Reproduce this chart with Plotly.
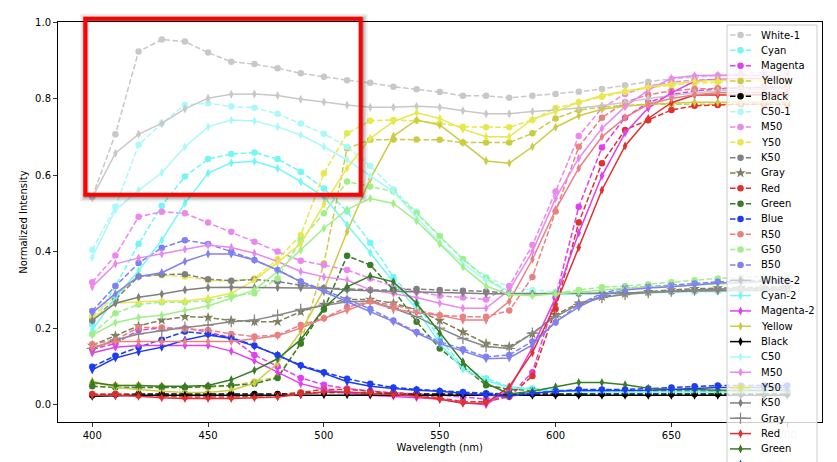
import plotly.graph_objects as go

W, H = 837, 462

wavelengths = list(range(400, 701, 10))

# first measurement set (dashed, circles)
white_1 = [0.543, 0.707, 0.923, 0.954, 0.949, 0.920, 0.896, 0.890, 0.879, 0.866, 0.857, 0.848, 0.841, 0.831, 0.824, 0.817,
           0.807, 0.807, 0.802, 0.807, 0.812, 0.818, 0.825, 0.835, 0.844, 0.851, 0.857, 0.861, 0.865, 0.868, 0.870]
cyan_1 = [0.210, 0.310, 0.420, 0.520, 0.596, 0.642, 0.655, 0.659, 0.642, 0.609, 0.565, 0.505, 0.423, 0.334, 0.265, 0.172,
          0.100, 0.069, 0.047, 0.043, 0.038, 0.037, 0.036, 0.036, 0.035, 0.035, 0.035, 0.035, 0.035, 0.035, 0.035]
magenta_1 = [0.145, 0.160, 0.195, 0.200, 0.200, 0.190, 0.175, 0.130, 0.100, 0.070, 0.052, 0.042, 0.036, 0.031, 0.028, 0.025,
             0.020, 0.015, 0.022, 0.085, 0.280, 0.517, 0.672, 0.750, 0.790, 0.810, 0.820, 0.825, 0.828, 0.830, 0.830]
yellow_1 = [0.055, 0.050, 0.050, 0.048, 0.045, 0.045, 0.050, 0.060, 0.073, 0.160, 0.369, 0.670, 0.692, 0.693, 0.693, 0.692,
            0.685, 0.685, 0.685, 0.709, 0.748, 0.770, 0.778, 0.782, 0.785, 0.785, 0.785, 0.785, 0.785, 0.785, 0.785]
black_1 = [0.025, 0.027, 0.028, 0.028, 0.028, 0.028, 0.028, 0.028, 0.028, 0.030, 0.032, 0.032, 0.030, 0.030, 0.028, 0.028,
           0.028, 0.028, 0.028, 0.028, 0.028, 0.028, 0.028, 0.028, 0.028, 0.028, 0.028, 0.028, 0.028, 0.028, 0.028]
c50_1 = [0.405, 0.517, 0.679, 0.735, 0.783, 0.788, 0.779, 0.776, 0.760, 0.735, 0.708, 0.674, 0.624, 0.563, 0.504, 0.441,
         0.381, 0.334, 0.308, 0.300, 0.295, 0.292, 0.292, 0.292, 0.293, 0.294, 0.295, 0.296, 0.297, 0.298, 0.298]
m50_1 = [0.320, 0.390, 0.491, 0.504, 0.500, 0.476, 0.452, 0.426, 0.400, 0.376, 0.365, 0.352, 0.330, 0.310, 0.295, 0.285,
         0.280, 0.275, 0.310, 0.417, 0.557, 0.702, 0.775, 0.812, 0.832, 0.843, 0.848, 0.850, 0.850, 0.850, 0.850]
y50_1 = [0.230, 0.285, 0.336, 0.338, 0.335, 0.325, 0.322, 0.330, 0.380, 0.443, 0.605, 0.709, 0.742, 0.744, 0.742, 0.735,
         0.726, 0.725, 0.725, 0.744, 0.775, 0.790, 0.805, 0.818, 0.828, 0.835, 0.840, 0.843, 0.845, 0.845, 0.845]
k50_1 = [0.220, 0.275, 0.335, 0.340, 0.341, 0.328, 0.324, 0.327, 0.322, 0.312, 0.305, 0.302, 0.300, 0.300, 0.302, 0.300,
         0.298, 0.296, 0.292, 0.290, 0.290, 0.290, 0.290, 0.292, 0.294, 0.296, 0.298, 0.300, 0.300, 0.300, 0.300]
gray_1 = [0.155, 0.180, 0.206, 0.221, 0.230, 0.228, 0.220, 0.217, 0.217, 0.243, 0.262, 0.275, 0.275, 0.265, 0.248, 0.220,
          0.190, 0.160, 0.152, 0.185, 0.235, 0.265, 0.282, 0.290, 0.295, 0.300, 0.303, 0.305, 0.306, 0.307, 0.308]
red_1 = [0.028, 0.028, 0.025, 0.022, 0.020, 0.020, 0.020, 0.022, 0.025, 0.032, 0.040, 0.040, 0.035, 0.030, 0.027, 0.018,
         0.008, 0.008, 0.021, 0.075, 0.250, 0.476, 0.631, 0.718, 0.743, 0.770, 0.781, 0.783, 0.785, 0.785, 0.785]
green_1 = [0.048, 0.045, 0.045, 0.045, 0.045, 0.048, 0.050, 0.055, 0.070, 0.160, 0.249, 0.389, 0.365, 0.300, 0.217, 0.147,
           0.100, 0.051, 0.040, 0.038, 0.036, 0.036, 0.036, 0.035, 0.035, 0.035, 0.035, 0.035, 0.035, 0.035, 0.035]
blue_1 = [0.099, 0.128, 0.150, 0.170, 0.191, 0.185, 0.175, 0.155, 0.130, 0.103, 0.085, 0.068, 0.055, 0.045, 0.040, 0.036,
          0.033, 0.030, 0.028, 0.030, 0.035, 0.040, 0.040, 0.040, 0.042, 0.045, 0.048, 0.050, 0.050, 0.050, 0.050]
r50_1 = [0.158, 0.169, 0.202, 0.202, 0.198, 0.195, 0.185, 0.178, 0.182, 0.208, 0.226, 0.255, 0.270, 0.260, 0.247, 0.234,
         0.230, 0.230, 0.246, 0.334, 0.505, 0.674, 0.750, 0.790, 0.810, 0.820, 0.825, 0.827, 0.828, 0.828, 0.828]
g50_1 = [0.185, 0.239, 0.262, 0.268, 0.268, 0.272, 0.285, 0.291, 0.330, 0.430, 0.500, 0.583, 0.570, 0.557, 0.500, 0.440,
         0.380, 0.330, 0.295, 0.290, 0.292, 0.300, 0.307, 0.310, 0.315, 0.320, 0.325, 0.330, 0.333, 0.335, 0.335]
b50_1 = [0.245, 0.310, 0.370, 0.410, 0.430, 0.420, 0.400, 0.378, 0.352, 0.322, 0.300, 0.275, 0.250, 0.220, 0.190, 0.165,
         0.145, 0.125, 0.130, 0.165, 0.215, 0.262, 0.291, 0.305, 0.308, 0.312, 0.317, 0.321, 0.323, 0.325, 0.325]

# second measurement set (solid, diamonds)
white_2 = [0.541, 0.657, 0.707, 0.735, 0.773, 0.801, 0.811, 0.812, 0.808, 0.798, 0.791, 0.783, 0.777, 0.777, 0.780, 0.777,
           0.768, 0.760, 0.760, 0.766, 0.770, 0.775, 0.782, 0.790, 0.800, 0.808, 0.815, 0.820, 0.822, 0.825, 0.826]
cyan_2 = [0.195, 0.280, 0.350, 0.430, 0.526, 0.605, 0.632, 0.636, 0.618, 0.583, 0.543, 0.470, 0.397, 0.320, 0.250, 0.160,
          0.093, 0.063, 0.045, 0.040, 0.035, 0.034, 0.033, 0.033, 0.033, 0.033, 0.033, 0.033, 0.033, 0.033, 0.033]
magenta_2 = [0.135, 0.150, 0.155, 0.155, 0.155, 0.155, 0.140, 0.115, 0.085, 0.055, 0.040, 0.030, 0.025, 0.022, 0.018, 0.015,
             0.005, 0.000, 0.040, 0.150, 0.280, 0.449, 0.598, 0.710, 0.775, 0.815, 0.845, 0.850, 0.852, 0.853, 0.853]
yellow_2 = [0.062, 0.045, 0.040, 0.035, 0.032, 0.032, 0.038, 0.056, 0.108, 0.191, 0.300, 0.452, 0.590, 0.702, 0.744, 0.731,
            0.685, 0.637, 0.631, 0.674, 0.725, 0.755, 0.772, 0.780, 0.785, 0.788, 0.790, 0.790, 0.790, 0.790, 0.790]
black_2 = [0.022, 0.024, 0.025, 0.025, 0.025, 0.025, 0.025, 0.025, 0.025, 0.026, 0.026, 0.026, 0.026, 0.026, 0.025, 0.025,
           0.025, 0.025, 0.025, 0.025, 0.025, 0.025, 0.025, 0.025, 0.025, 0.025, 0.025, 0.025, 0.025, 0.025, 0.025]
c50_2 = [0.385, 0.509, 0.560, 0.606, 0.674, 0.726, 0.744, 0.741, 0.726, 0.705, 0.674, 0.640, 0.598, 0.557, 0.490, 0.423,
         0.369, 0.325, 0.295, 0.290, 0.288, 0.288, 0.289, 0.290, 0.292, 0.294, 0.295, 0.296, 0.297, 0.298, 0.298]
m50_2 = [0.308, 0.368, 0.383, 0.394, 0.406, 0.417, 0.411, 0.396, 0.374, 0.348, 0.334, 0.326, 0.300, 0.290, 0.280, 0.265,
         0.252, 0.252, 0.300, 0.400, 0.539, 0.644, 0.722, 0.779, 0.822, 0.853, 0.860, 0.861, 0.861, 0.861, 0.860]
y50_2 = [0.226, 0.265, 0.269, 0.271, 0.271, 0.278, 0.291, 0.325, 0.372, 0.420, 0.524, 0.618, 0.696, 0.740, 0.763, 0.748,
         0.720, 0.700, 0.700, 0.746, 0.766, 0.790, 0.808, 0.820, 0.830, 0.838, 0.845, 0.848, 0.850, 0.850, 0.850]
k50_2 = [0.220, 0.265, 0.281, 0.289, 0.300, 0.306, 0.307, 0.306, 0.306, 0.305, 0.305, 0.300, 0.298, 0.296, 0.295, 0.293,
         0.292, 0.290, 0.290, 0.290, 0.290, 0.290, 0.291, 0.292, 0.294, 0.296, 0.297, 0.298, 0.299, 0.300, 0.300]
gray_2 = [0.147, 0.169, 0.185, 0.193, 0.202, 0.208, 0.217, 0.221, 0.234, 0.249, 0.260, 0.269, 0.270, 0.252, 0.230, 0.200,
          0.173, 0.152, 0.147, 0.187, 0.230, 0.262, 0.280, 0.288, 0.293, 0.297, 0.300, 0.302, 0.303, 0.304, 0.305]
red_2 = [0.025, 0.025, 0.022, 0.018, 0.016, 0.016, 0.016, 0.018, 0.020, 0.027, 0.033, 0.033, 0.030, 0.026, 0.022, 0.014,
         0.004, 0.004, 0.047, 0.136, 0.261, 0.411, 0.561, 0.676, 0.748, 0.789, 0.809, 0.809, 0.810, 0.810, 0.810]
green_2 = [0.058, 0.050, 0.050, 0.048, 0.048, 0.050, 0.065, 0.090, 0.120, 0.170, 0.252, 0.308, 0.336, 0.321, 0.265, 0.187,
           0.112, 0.056, 0.028, 0.035, 0.047, 0.058, 0.058, 0.052, 0.043, 0.040, 0.040, 0.038, 0.038, 0.038, 0.038]
blue_2 = [0.091, 0.122, 0.138, 0.150, 0.169, 0.182, 0.173, 0.153, 0.130, 0.101, 0.082, 0.060, 0.048, 0.042, 0.038, 0.035,
          0.030, 0.025, 0.022, 0.030, 0.035, 0.037, 0.037, 0.037, 0.038, 0.040, 0.042, 0.045, 0.045, 0.045, 0.045]
r50_2 = [0.150, 0.165, 0.165, 0.165, 0.165, 0.165, 0.165, 0.172, 0.180, 0.200, 0.226, 0.247, 0.269, 0.250, 0.240, 0.234,
         0.221, 0.221, 0.270, 0.380, 0.510, 0.618, 0.700, 0.750, 0.785, 0.800, 0.810, 0.815, 0.816, 0.816, 0.816]
g50_2 = [0.182, 0.214, 0.228, 0.234, 0.246, 0.258, 0.278, 0.300, 0.348, 0.404, 0.461, 0.510, 0.539, 0.526, 0.480, 0.420,
         0.360, 0.310, 0.288, 0.285, 0.290, 0.295, 0.300, 0.304, 0.307, 0.310, 0.313, 0.316, 0.318, 0.320, 0.320]
b50_2 = [0.240, 0.290, 0.335, 0.345, 0.374, 0.394, 0.394, 0.378, 0.352, 0.321, 0.295, 0.269, 0.243, 0.217, 0.187, 0.160,
         0.140, 0.120, 0.122, 0.156, 0.217, 0.255, 0.285, 0.300, 0.305, 0.308, 0.313, 0.318, 0.320, 0.322, 0.322]

names_1 = ["White-1", "Cyan", "Magenta", "Yellow", "Black", "C50-1", "M50", "Y50", "K50", "Gray", "Red", "Green", "Blue",
           "R50", "G50", "B50"]
names_2 = ["White-2", "Cyan-2", "Magenta-2", "Yellow", "Black", "C50", "M50", "Y50", "K50", "Gray", "Red", "Green", "Blue",
           "R50", "G50", "B50"]
values_1 = [white_1, cyan_1, magenta_1, yellow_1, black_1, c50_1, m50_1, y50_1, k50_1, gray_1, red_1, green_1, blue_1,
            r50_1, g50_1, b50_1]
values_2 = [white_2, cyan_2, magenta_2, yellow_2, black_2, c50_2, m50_2, y50_2, k50_2, gray_2, red_2, green_2, blue_2,
            r50_2, g50_2, b50_2]
colors = ["#c8c8c8", "#72f7f7", "#e040f0", "#cccc44", "#000000", "#aaf9f9", "#ea88f0", "#e8e84e", "#808080", "#7f7f5a",
          "#e03030", "#3a7d28", "#1e3cf0", "#ea8080", "#a0f088", "#8080f0"]
gray_solid_color = "#888888"

x_ticks = [400, 450, 500, 550, 600, 650, 700]
y_ticks = [0.0, 0.2, 0.4, 0.6, 0.8, 1.0]

DASH = "5.5px,2.4px"


def style(set_no, i):
    color = colors[i]
    if set_no == 1:
        marker = dict(symbol="circle", size=6.5, color=color)
        if names_1[i] == "Gray":
            marker = dict(symbol="star", size=8, color=color)
        return dict(color=color, width=1.5, dash=DASH), marker
    marker = dict(symbol="diamond-tall", size=6.5, color=color)
    if names_2[i] == "Gray":
        color = gray_solid_color
        marker = dict(symbol="cross-thin", size=8, color=color, line=dict(color=color, width=1.3))
    return dict(color=color, width=1.5), marker


fig = go.Figure()

for set_no, (names, values) in enumerate([(names_1, values_1), (names_2, values_2)], start=1):
    for i, (name, vals) in enumerate(zip(names, values)):
        line, marker = style(set_no, i)
        fig.add_trace(go.Scatter(x=wavelengths, y=vals, mode="lines+markers", name=name, line=line, marker=marker,
                                 xaxis="x", yaxis="y", showlegend=False, hoverinfo="skip"))

# legend drawn on a pixel-space overlay (the original legend runs off the bottom of the figure)
lx0, lx1, ly0 = 727, 817, 25
fig.add_trace(go.Scatter(x=[lx0, lx1, lx1, lx0, lx0], y=[ly0, ly0, 520, 520, ly0], mode="lines", fill="toself",
                         fillcolor="rgba(255,255,255,0.8)", line=dict(color="#cccccc", width=1),
                         xaxis="x2", yaxis="y2", showlegend=False, hoverinfo="skip"))

entry_y0, entry_dy = 35, 15.33
annotations = []
legend_entries = [(1, i, n) for i, n in enumerate(names_1)] + [(2, i, n) for i, n in enumerate(names_2)]
for k, (set_no, i, name) in enumerate(legend_entries):
    yy = entry_y0 + k * entry_dy
    line, marker = style(set_no, i)
    fig.add_trace(go.Scatter(x=[730, 751], y=[yy, yy], mode="lines", line=line,
                             xaxis="x2", yaxis="y2", showlegend=False, hoverinfo="skip"))
    fig.add_trace(go.Scatter(x=[740.5], y=[yy], mode="markers", marker=marker,
                             xaxis="x2", yaxis="y2", showlegend=False, hoverinfo="skip"))
    annotations.append(dict(x=759, y=yy, xref="x2", yref="y2", text=name, showarrow=False, xanchor="left",
                            yanchor="middle", font=dict(size=10, color="#000000")))


def px_x(v):
    return v / W


def px_y(v):
    return 1 - v / H


# highlight box with a soft shadow
shapes = []
bx0, by0, bx1, by1 = 85.3, 18.7, 360.7, 194.7
for grow, width, alpha in [(1.5, 9, 0.07), (1.0, 6, 0.12), (0.5, 4, 0.18)]:
    shapes.append(dict(type="rect", xref="paper", yref="paper", x0=px_x(bx0 - grow + 1), x1=px_x(bx1 + grow + 1),
                       y0=px_y(by1 + grow + 1), y1=px_y(by0 - grow + 1),
                       line=dict(color=f"rgba(0,0,0,{alpha})", width=width), layer="above"))
shapes.append(dict(type="rect", xref="paper", yref="paper", x0=px_x(bx0), x1=px_x(bx1), y0=px_y(by1), y1=px_y(by0),
                   line=dict(color="#ff0000", width=4), layer="above"))

axis_common = dict(showline=True, mirror=True, linecolor="#000000", linewidth=1, ticks="outside", ticklen=3.5,
                   tickwidth=0.8, tickcolor="#000000", showgrid=False, zeroline=False, automargin=False,
                   tickfont=dict(family="DejaVu Sans", size=10, color="#000000"))

# the 700 label sits under the semi-transparent legend in the original
x_ticktext = [str(v) if v < 700 else '<span style="color:#cccccc">700</span>' for v in x_ticks]

fig.update_layout(
    width=W,
    height=H,
    autosize=False,
    margin=dict(l=0, r=0, t=0, b=0, pad=0),
    paper_bgcolor="white",
    plot_bgcolor="rgba(0,0,0,0)",
    showlegend=False,
    hovermode=False,
    font=dict(family="DejaVu Sans", size=10, color="#000000"),
    xaxis=dict(domain=[57.5 / W, 822 / W], range=[385, 715], tickvals=x_ticks, ticktext=x_ticktext, anchor="y",
               title=dict(text="Wavelength (nm)", standoff=4, font=dict(size=10)), **axis_common),
    yaxis=dict(domain=[1 - 422.3 / H, 1 - 22 / H], range=[-0.046, 1.0], tickvals=y_ticks,
               tickformat=".1f", anchor="x",
               title=dict(text="Normalized Intensity", standoff=5, font=dict(size=10)), **axis_common),
    xaxis2=dict(domain=[0, 1], range=[0, W], visible=False, anchor="y2", fixedrange=True, automargin=False),
    yaxis2=dict(domain=[0, 1], range=[H, 0], visible=False, anchor="x2", fixedrange=True, automargin=False),
    shapes=shapes,
    annotations=annotations,
)

fig.write_html("out.html", config={"displayModeBar": False, "staticPlot": True},
               post_script="document.body.style.margin='0';document.body.style.overflow='hidden';")
